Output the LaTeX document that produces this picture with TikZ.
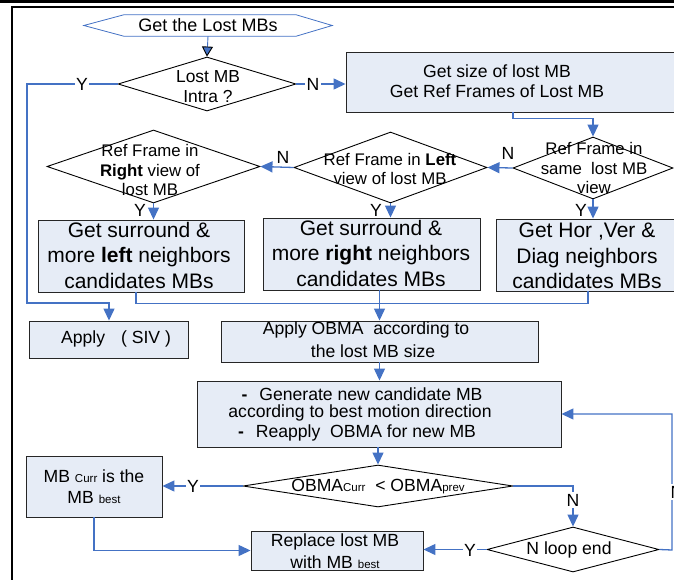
\documentclass[tikz,border=0pt]{standalone}
\usepackage{fontspec}
\setmainfont{Liberation Sans}
\usetikzlibrary{shapes.geometric,arrows.meta,calc}
\definecolor{lblue}{RGB}{68,114,196}
\definecolor{boxfill}{RGB}{230,236,246}
\newcommand{\smallsub}[1]{{\fontsize{11.5}{12}\selectfont #1}}
\begin{document}
\begin{tikzpicture}[x=1pt,y=-1pt,
  font=\fontsize{17.6}{20.5}\selectfont,
  conn/.style={draw=lblue,line width=1.3pt},
  arr/.style={conn,-{Triangle[length=12pt,width=11pt]}},
  boxn/.style={draw=black!85,fill=boxfill,line width=0.9pt,inner sep=0pt},
  dia/.style={diamond,draw=black,fill=white,line width=0.9pt,inner sep=0pt},
  txt/.style={align=center,inner sep=0pt},
  dtxt/.style={align=center,inner sep=0pt,font=\fontsize{16.8}{19.5}\selectfont},
  bigtxt/.style={align=center,inner sep=0pt,font=\fontsize{21}{25.5}\selectfont},
  lbl/.style={fill=white,inner sep=1.5pt},
  plbl/.style={inner sep=0pt},
  ]
\useasboundingbox (0,0) rectangle (674,580);
\clip (0,0) rectangle (674,580);
% frame
\fill[black] (0,0) rectangle (674,2.7);
\draw[line width=2pt] (12,590) -- (12,7.5) -- (690,7.5);

% start hexagon
\node[txt,minimum width=248,minimum height=21,font=\fontsize{18}{20}\selectfont] (start) at (208,25.5) {Get the Lost MBs};
\draw[lblue,line width=0.8pt] (start.west) -- ($(start.north west)+(40,0)$) -- ($(start.north east)+(-36,0)$) -- (start.east) -- ($(start.south east)+(-36,0)$) -- ($(start.south west)+(40,0)$) -- cycle;

% diamonds
\node[dia,minimum width=178,minimum height=54] (d1) at (207,84) {};
\node[dia,minimum width=213,minimum height=73] (dR) at (153.5,166.5) {};
\node[dia,minimum width=193,minimum height=71] (dL) at (390.5,167.5) {};
\node[dia,minimum width=160,minimum height=62] (dS) at (593,168) {};
\node[dia,minimum width=270,minimum height=42] (dOB) at (378,486) {};
\node[dia,minimum width=172,minimum height=45] (dN) at (573,549.5) {};

% boxes
\node[boxn,minimum width=344,minimum height=60] (b1) at (518,82) {};
\node[boxn,minimum width=206,minimum height=72] (bA) at (141,256) {};
\node[boxn,minimum width=217,minimum height=72] (bB) at (371.5,254) {};
\node[boxn,minimum width=184,minimum height=72] (bC) at (588,255) {};
\node[boxn,minimum width=159,minimum height=37] (ap) at (108.5,339.5) {};
\node[boxn,minimum width=317,minimum height=41] (ob) at (379.5,341.5) {};
\node[boxn,minimum width=364,minimum height=66] (gen) at (379,414) {};
\node[boxn,minimum width=136,minimum height=61] (mc) at (94,486.5) {};
\node[boxn,minimum width=172,minimum height=39] (rp) at (337,550.5) {};

% texts
\node[dtxt,font=\fontsize{17.4}{20}\selectfont] (t-d1) at (208,87) {Lost MB\\Intra\ ?};
\node[dtxt] (t-dR) at (150,170) {Ref Frame in\\\textbf{Right} view of\\lost MB};
\node[dtxt] (t-dL) at (390,169) {Ref Frame in \textbf{Left}\\view of lost MB};
\node[dtxt] (t-dS) at (594,168) {Ref Frame in\\same\ \ lost MB\\view};
\node[txt] (t-dOB) at (378,487) {OBMA\smallsub{Curr}\ \ < OBMA\smallsub{prev}};
\node[txt] (t-dN) at (569,550) {N loop end};
\node[txt] (t-b1) at (497,81) {Get size of lost MB\\Get Ref Frames of Lost MB};
\node[bigtxt] (t-bA) at (139,255) {Get surround \&\\more \textbf{left} neighbors\\candidates MBs};
\node[bigtxt] (t-bB) at (371,253) {Get surround \&\\more \textbf{right} neighbors\\candidates MBs};
\node[bigtxt] (t-bC) at (587,256) {Get Hor ,Ver \&\\Diag neighbors\\candidates MBs};
\node[txt] (t-ap) at (116,339) {Apply\hspace{16pt}( SIV\ )};
\node[txt] (t-ob1) at (366,330) {Apply OBMA\ \ according to};
\node[txt] (t-ob2) at (373,351) {the lost MB size};
\node[txt] (t-gen1) at (362,394) {\textbf{-}\hspace{12pt}Generate new candidate MB};
\node[txt] (t-gen2) at (360,413) {according to best motion direction};
\node[txt] (t-gen3) at (357,433) {\textbf{-}\hspace{12pt}Reapply\ \ OBMA for new MB};
\node[txt] (t-mc) at (94,486.5) {MB \smallsub{Curr} is the\\MB \smallsub{best}};
\node[txt,font=\fontsize{17.6}{22}\selectfont] (t-rp) at (335,551) {Replace lost MB\\with MB \smallsub{best}};

% coordinates
\coordinate (ycorner) at (27,303);
\coordinate (yend) at (109,303);
\coordinate (rc) at (672,550);

% connectors
\draw[lblue,line width=0.9pt,-{Triangle[length=10pt,width=11pt,fill=lblue,color=black]}] (start.south) -- (d1.north);
\draw[arr] (d1.west) -| (ycorner) -- (yend) -- (yend |- ap.north);
\draw[arr] (d1.east) -- (b1.west |- d1.east);
\draw[arr] ($(b1.south)+(-5,0)$) -- ++(0,6) -| (dS.north);
\draw[arr] (dS.west) -- (dL.east);
\draw[arr] (dL.west) -- (dR.east);
\draw[arr] (dR.south) -- (dR.south |- bA.north);
\draw[arr] (dL.south) -- (dL.south |- bB.north);
\draw[arr] (dS.south) -- (dS.south |- bC.north);
\draw[conn] ($(bA.south)+(-5,0)$) -- ++(0,11) -| (bC.south);
\draw[arr] ($(bB.south)+(8,0)$) coordinate (tb) -- (tb |- ob.north);
\draw[arr] (ob.south) -- (ob.south |- gen.north);
\draw[arr] (gen.south -| dOB.north) -- (dOB.north);
\draw[arr] (dOB.west) -- (mc.east |- dOB.west);
\draw[arr] (mc.south) |- (rp.west);
\draw[arr] (dOB.east) -| (dN.north);
\draw[arr] (dN.west) -- (rp.east |- dN.west);
\draw[arr] (dN.east) -- (rc) |- (gen.east);

% labels
\node[lbl] (l-y1) at (82,84) {Y};
\node[lbl] (l-n1) at (313,84) {N};
\node[plbl] (l-n2) at (508,153) {N};
\node[plbl] (l-n3) at (283,157) {N};
\node[plbl] (l-y2) at (140,210) {Y};
\node[plbl] (l-y3) at (376,210) {Y};
\node[plbl] (l-y4) at (581,210) {Y};
\node[lbl] (l-y5) at (193,486) {Y};
\node[lbl] (l-n4) at (573,500) {N};
\node[lbl] (l-y6) at (470,550) {Y};
\node[lbl] (l-n5) at (677,492) {N};
\end{tikzpicture}
\end{document}
